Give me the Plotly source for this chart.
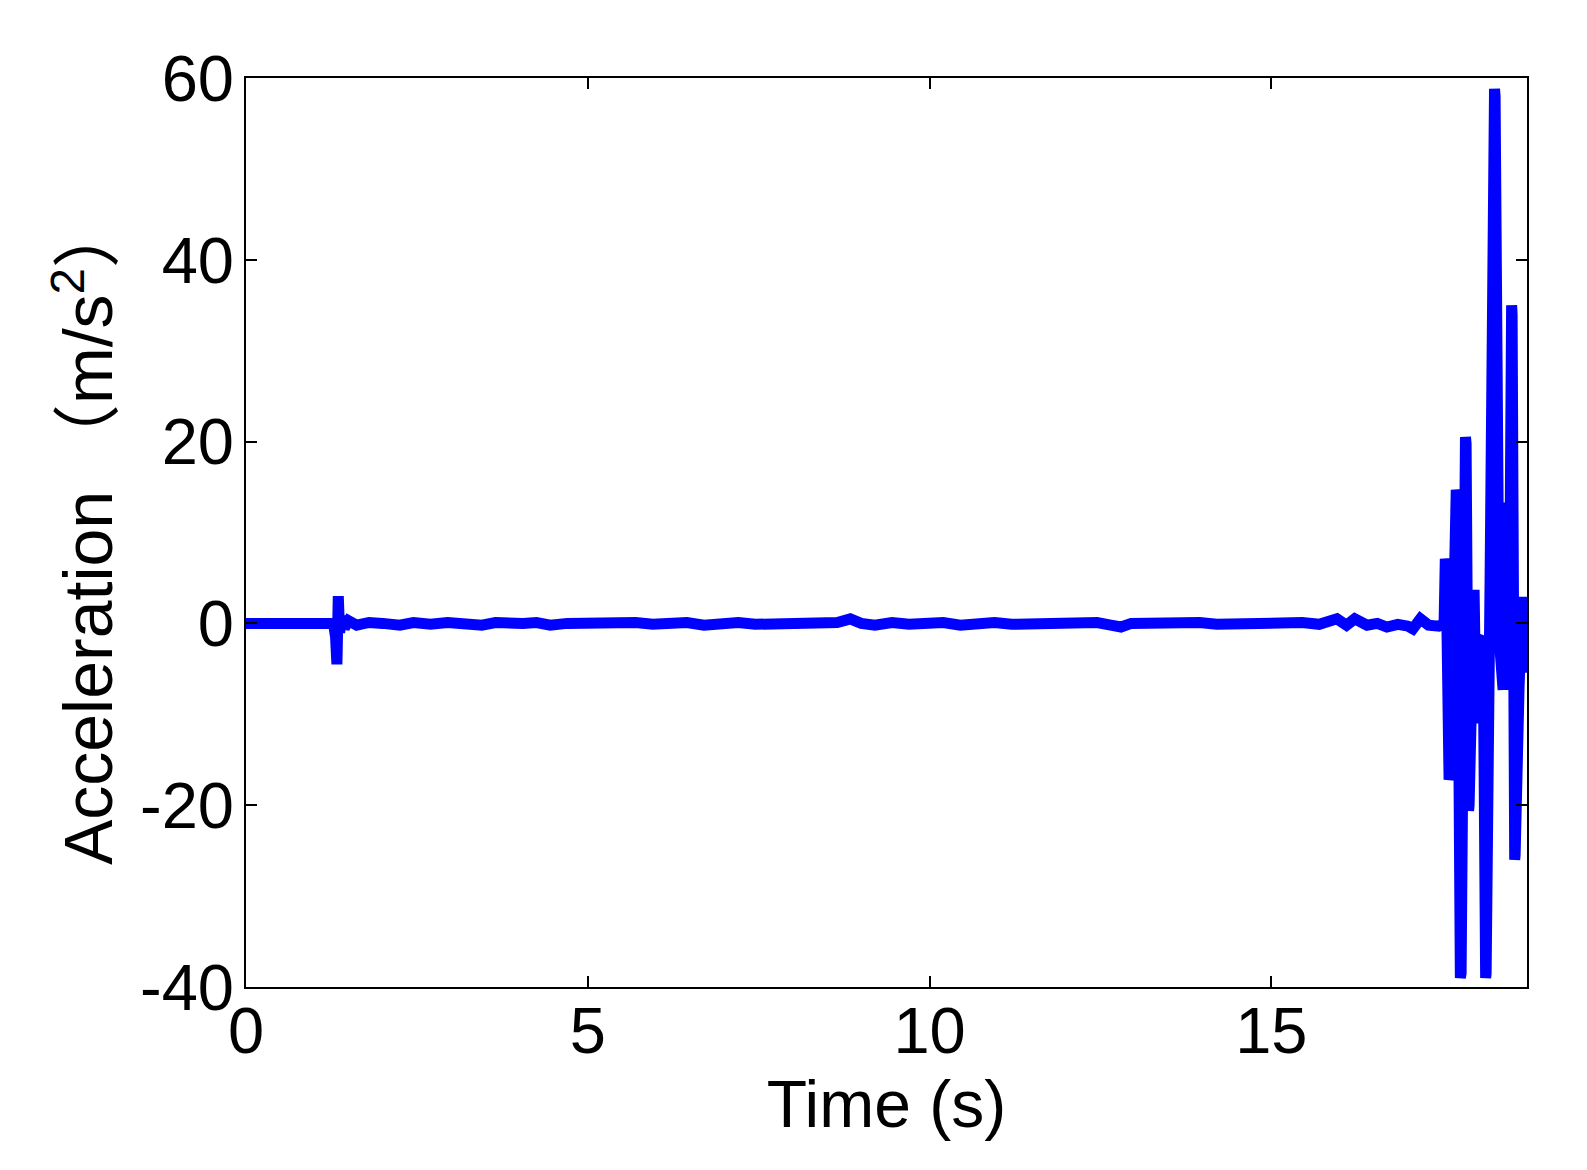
import plotly.graph_objects as go

# ---- data ----
time_s = [
    0.00, 1.28, 1.31, 1.33, 1.35, 1.37, 1.40, 1.44, 1.50, 1.62, 1.80, 2.00,
    2.25, 2.45, 2.70, 2.95, 3.20, 3.45, 3.65, 3.85, 4.05, 4.25, 4.45, 4.70,
    4.95, 5.20, 5.45, 5.70, 5.95, 6.20, 6.45, 6.70, 6.95, 7.20, 7.45, 7.70,
    7.95, 8.20, 8.45, 8.65, 8.84, 9.00, 9.20, 9.45, 9.70, 9.95, 10.20, 10.45,
    10.70, 10.95, 11.20, 11.45, 11.70, 11.95, 12.20, 12.45, 12.65, 12.80, 12.95,
    13.20, 13.45, 13.70, 13.95, 14.20, 14.45, 14.70, 14.95, 15.20, 15.45, 15.70,
    15.96, 16.10, 16.22, 16.40, 16.55, 16.69, 16.85, 17.00, 17.07, 17.18, 17.30,
    17.45, 17.527, 17.545, 17.556, 17.600, 17.615, 17.659, 17.705, 17.718,
    17.765, 17.776, 17.840, 17.849, 17.885, 17.893,
    17.966, 17.995, 18.039, 18.098, 18.135, 18.142, 18.200, 18.265, 18.273,
    18.332, 18.390, 18.434, 18.478, 18.515, 18.522, 18.560, 18.566, 18.624,
    18.668, 18.712, 18.742,
]
accel = [
    0.0, 0.0, -1.5, -4.5, 3.0, -1.0, 0.8, -0.5, 0.3, -0.2, 0.1, 0.0,
    -0.2, 0.1, -0.1, 0.1, 0.0, -0.2, 0.1, -0.1, 0.0, 0.1, -0.2, 0.0,
    0.1, -0.1, 0.0, 0.1, -0.1, 0.0, 0.1, -0.2, 0.0, 0.1, -0.1, 0.0,
    0.1, -0.1, 0.0, 0.1, 0.5, 0.0, -0.2, 0.1, -0.1, 0.0, 0.1, -0.2,
    0.0, 0.1, -0.1, 0.0, 0.1, -0.1, 0.0, 0.1, -0.2, -0.4, 0.0,
    0.1, -0.1, 0.0, 0.1, -0.1, 0.0, 0.1, -0.1, 0.0, 0.1, -0.1,
    0.5, -0.2, 0.5, -0.2, 0.0, -0.4, -0.1, -0.3, -0.6, 0.5, -0.2,
    -0.3, 0.0, 7.1, 6.5, -17.2, -16.5, -2.0, 14.7, 14.0,
    -39.0, -38.5, 20.5, 19.8, -20.6, -20.0,
    3.7, -11.0, -2.0, -1.5, -39.0, -38.5, 5.0, 58.8, 58.0,
    -1.5, -7.3, 13.3, -7.0, 35.0, 34.0, -26.0, -25.5, -7.0,
    2.9, -5.4, 2.9,
]
x_ticks = [0, 5, 10, 15]
x_tick_labels = ["0", "5", "10", "15"]
y_ticks = [60, 40, 20, 0, -20, -40]
y_tick_labels = ["60", "40", "20", "0", "-20", "-40"]

FONT = "Liberation Sans, Arial, Noto Sans CJK SC, sans-serif"

fig = go.Figure()
fig.add_trace(go.Scatter(
    x=time_s, y=accel, mode="lines",
    line=dict(color="#0000FF", width=11),
    showlegend=False,
))

axis_common = dict(
    showline=True, linecolor="black", linewidth=2, mirror="ticks",
    ticks="inside", ticklen=11, tickwidth=1.5, tickcolor="black",
    showgrid=False, zeroline=False,
    tickfont=dict(family=FONT, size=65, color="black"),
)

fig.update_layout(
    width=1579, height=1162,
    paper_bgcolor="white", plot_bgcolor="white",
    margin=dict(l=238, r=60, t=70, b=183),
    font=dict(family=FONT, color="black"),
    xaxis=dict(
        range=[0, 18.74], tickvals=x_ticks, ticktext=x_tick_labels,
        ticklabelstandoff=-14,
        title=dict(text="Time (s)", font=dict(family=FONT, size=66, color="black"), standoff=0),
        **axis_common,
    ),
    yaxis=dict(
        range=[-40, 60], tickvals=y_ticks, ticktext=y_tick_labels,
        ticklabelstandoff=-3,
        title=dict(text="Acceleration （m/s<sup>2</sup>）", font=dict(family=FONT, size=68, color="black"), standoff=5),
        **axis_common,
    ),
)

fig.write_html("out.html")
